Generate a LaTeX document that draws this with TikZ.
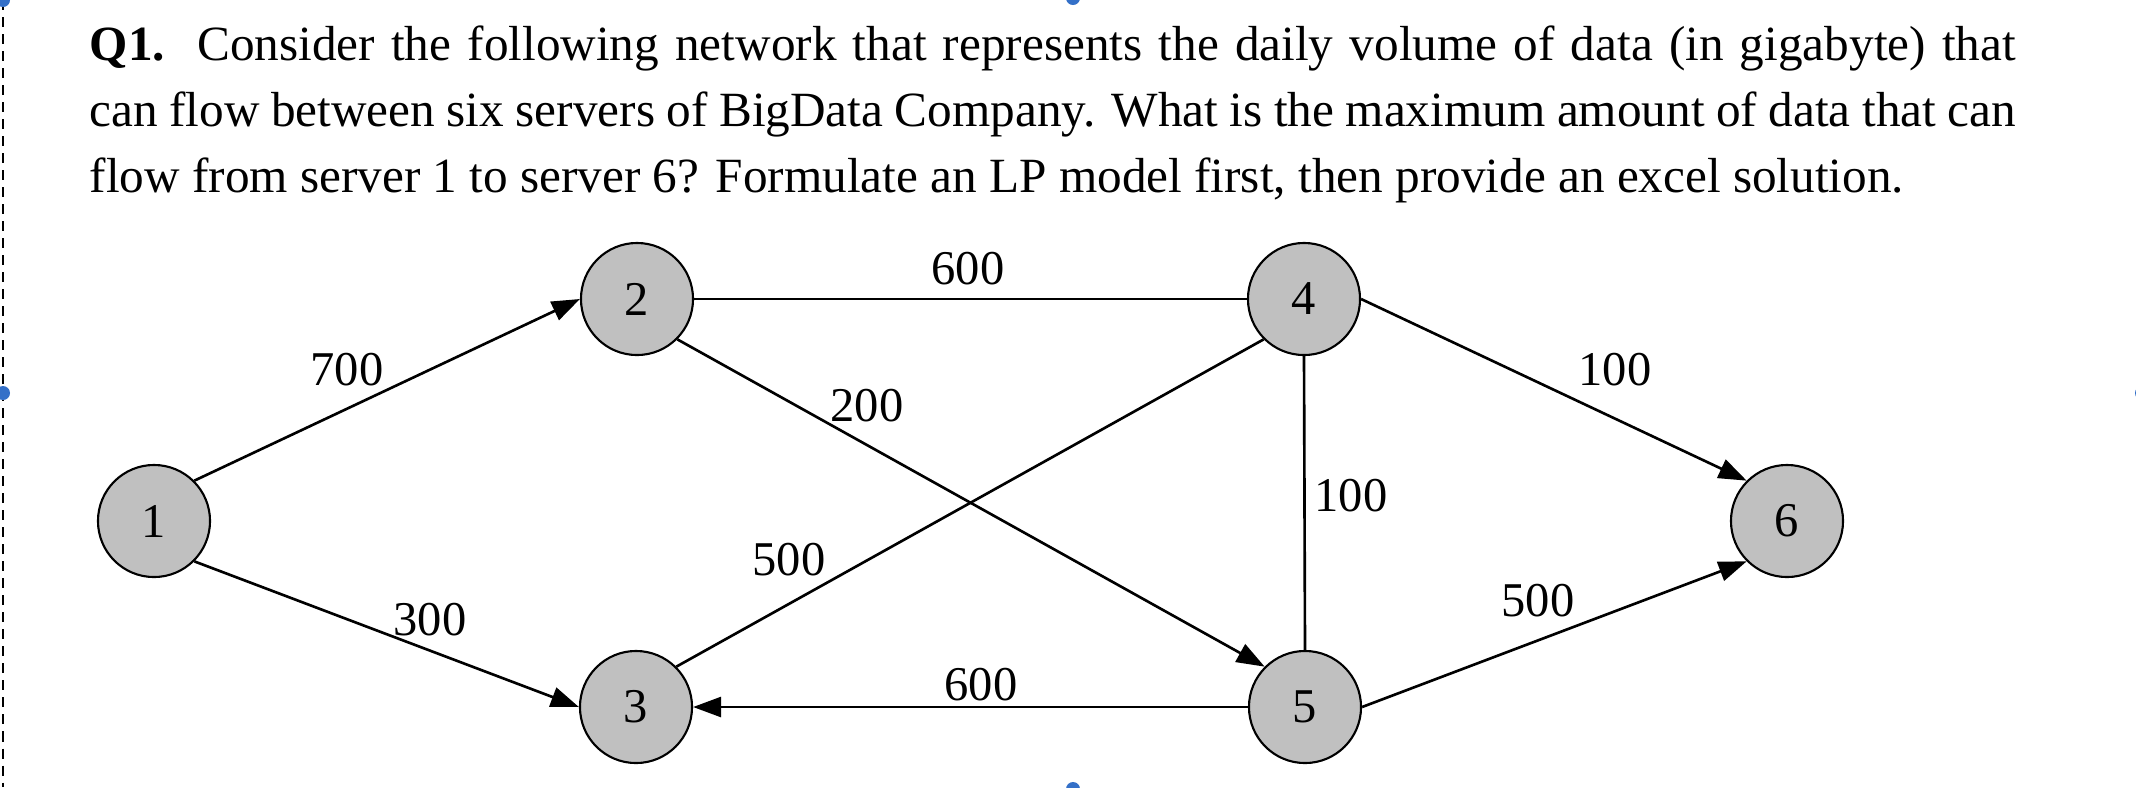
\documentclass[tikz,border=0pt]{standalone}
\usepackage{fontspec}
\setmainfont{Liberation Serif}
\usetikzlibrary{arrows.meta}
\definecolor{nodegray}{RGB}{192,192,192}
\definecolor{handleblue}{RGB}{52,112,200}
\begin{document}
\begin{tikzpicture}[x=0.01cm,y=-0.01cm,
  txt/.style={font=\fontsize{14}{17}\selectfont},
  lbl/.style={font=\fontsize{13.8}{16}\selectfont},
  server/.style={circle, draw, line width=0.6pt, fill=nodegray, minimum size=1.12cm, inner sep=0pt, lbl},
  capacity/.style={inner sep=0pt, lbl},
  link/.style={line width=0.75pt},
  flow/.style={link, -{Triangle[length=0.28cm,width=0.2cm]}},
  qline/.style={anchor=base west, inner sep=0pt, txt},
  handle/.style={circle, fill=handleblue, inner sep=0pt, minimum size=0.14cm}]
\useasboundingbox (0,0) rectangle (2136,787);
% selection frame artefacts
\coordinate (ftop) at (3,0);
\coordinate (fbot) at (3,787);
\draw[line width=0.3pt, dash pattern=on 0.1cm off 0.07cm] (ftop) -- (fbot);
\node[handle] (h1) at (3,0) {};
\node[handle] (h2) at (3,393) {};
\node[handle] (h3) at (2142,393) {};
\node[handle] (h4) at (1073,-2) {};
\node[handle] (h5) at (1073,789) {};
% question text
\node[qline] (q1) at (89,60) {\makebox[19.25cm][s]{\textbf{Q1.}\ \ Consider the following network that represents the daily volume of data (in gigabyte) that}};
\node[qline] (q2) at (89,126) {\makebox[19.25cm][s]{can flow between six servers of BigData Company. What is the maximum amount of data that can}};
\node[qline] (q3) at (89,192) {flow from server 1 to server 6? Formulate an LP model first, then provide an excel solution.};
% servers
\node[server] (n1) at (154,521) {1};
\node[server] (n2) at (637,299) {2};
\node[server] (n3) at (636,707) {3};
\node[server] (n4) at (1304,299) {4};
\node[server] (n5) at (1305,707) {5};
\node[server] (n6) at (1787,521) {6};
% connectors
\draw[flow] (n1.north east) -- (n2.west);
\draw[flow] (n1.south east) -- (n3.west);
\draw[link] (n2.east) -- (n4.west);
\draw[flow] (n2.south east) -- (n5.north west);
\draw[link] (n3.north east) -- (n4.south west);
\draw[link] (n4.south) -- (n5.north);
\draw[flow] (n4.east) -- (n6.north west);
\draw[flow] (n5.west) -- (n3.east);
\draw[flow] (n5.east) -- (n6.south west);
% capacities
\node[capacity] (c12) at (347,370) {700};
\node[capacity] (c13) at (430,620) {300};
\node[capacity] (c24) at (968,269) {600};
\node[capacity] (c25) at (867,406) {200};
\node[capacity] (c34) at (789,560) {500};
\node[capacity] (c45) at (1351,496) {100};
\node[capacity] (c46) at (1615,370) {100};
\node[capacity] (c56) at (1538,601) {500};
\node[capacity] (c53) at (981,685) {600};
\end{tikzpicture}
\end{document}
